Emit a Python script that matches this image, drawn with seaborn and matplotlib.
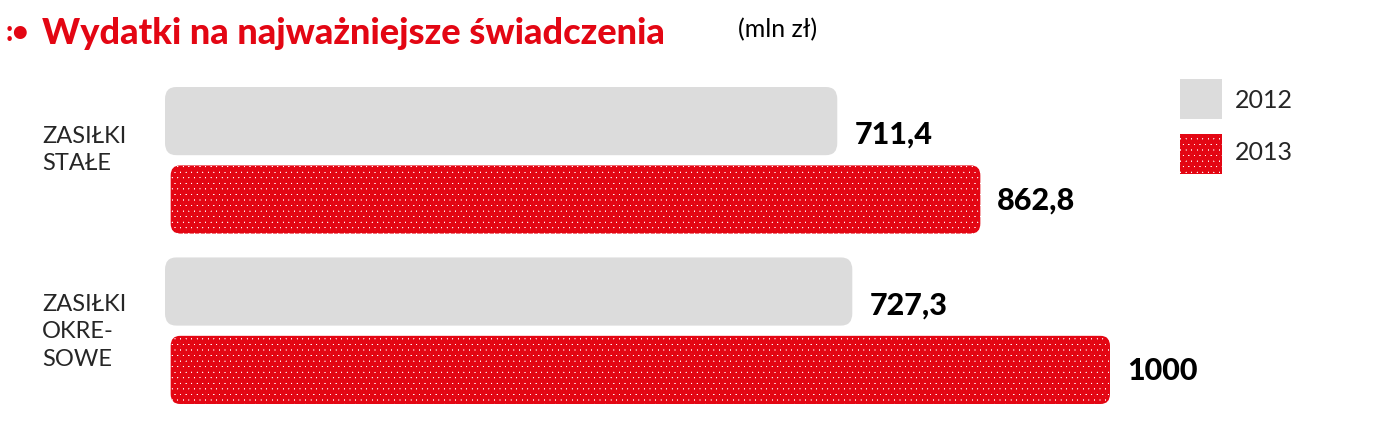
import matplotlib
matplotlib.use("Agg")
import matplotlib.pyplot as plt
import seaborn as sns
import pandas as pd
from matplotlib.patches import FancyBboxPatch, Rectangle

categories = ["ZASIŁKI\nSTAŁE", "ZASIŁKI\nOKRE-\nSOWE"]
years = ["2012", "2013"]
v2012 = [711.4, 727.3]
v2013 = [862.8, 1000]
labels2012 = ["711,4", "727,3"]
labels2013 = ["862,8", "1000"]

df = pd.DataFrame({"cat": categories * 2, "year": ["2012"] * 2 + ["2013"] * 2,
                   "val": v2012 + v2013})

sns.set_theme(style="white")
plt.rcParams['font.family'] = ['Lato', 'DejaVu Sans']
plt.rcParams['hatch.linewidth'] = 3.0
W, H = 1400, 439
fig = plt.figure(figsize=(W/100, H/100), dpi=100)
ax = fig.add_axes([165/W, 1-405/H, 945/W, 317/H])
sns.barplot(data=df, y="cat", x="val", hue="year", orient="h", width=0.86,
            palette=["#dcdcdc", "#e30613"], saturation=1, ax=ax, legend=False)
ax.set_xlim(0, 1000)
ax.set_ylim(1.43, -0.43)
ax.axis("off")

red = "#e30613"
patches = sorted(ax.patches, key=lambda p: p.get_y())
# order by y: cat0-2012, cat0-2013, cat1-2012, cat1-2013
labs = [labels2012[0], labels2013[0], labels2012[1], labels2013[1]]
for k, (p, lab) in enumerate(zip(patches, labs)):
    x, y, w, h = p.get_x(), p.get_y(), p.get_width(), p.get_height()
    is13 = k % 2 == 1
    p.set_visible(False)
    if is13:
        y, h = y + 0.03, h - 0.03
        fb = FancyBboxPatch((x + 6, y), w - 6, h, boxstyle="round,pad=0,rounding_size=10",
                            mutation_aspect=1/170, facecolor="white", edgecolor=red,
                            hatch="ooo", linewidth=0, transform=ax.transData)
        ty = y + h / 2
    else:
        fb = FancyBboxPatch((x, y), w, h - 0.03, boxstyle="round,pad=0,rounding_size=12",
                            mutation_aspect=1/170, facecolor="#dcdcdc", edgecolor="none",
                            transform=ax.transData)
        ty = y + h / 2 + 0.06
    ax.add_patch(fb)
    ax.text(x + w + 18, ty, lab, va="center", ha="left",
            fontsize=22, fontweight="black", color="black")

for i, c in enumerate(categories):
    fig.text(42/W, 1 - (150 + 170 * i + (12 if i else 0))/H, c, ha="left", va="center",
             fontsize=17, linespacing=1.4)

fig.text(6/W, 1 - 33/H, ":•", color=red, fontsize=20, fontweight="black", va="center")
fig.text(42/W, 1 - 33/H, "Wydatki na najważniejsze świadczenia", color=red,
         fontsize=26, fontweight="black", va="center")
fig.text(738/W, 1 - 30/H, "(mln zł)", color="black", fontsize=18, va="center")

fig.patches.append(Rectangle((1180/W, 1 - 120/H), 42/W, 40/H, facecolor="#dcdcdc",
                             edgecolor="none", transform=fig.transFigure))
fig.patches.append(Rectangle((1180/W, 1 - 175/H), 42/W, 40/H, facecolor="white",
                             edgecolor=red, hatch="ooo", linewidth=0, transform=fig.transFigure))
fig.text(1235/W, 1 - 100/H, "2012", fontsize=18, va="center")
fig.text(1235/W, 1 - 153/H, "2013", fontsize=18, va="center")

fig.savefig("out.png", dpi=100)
